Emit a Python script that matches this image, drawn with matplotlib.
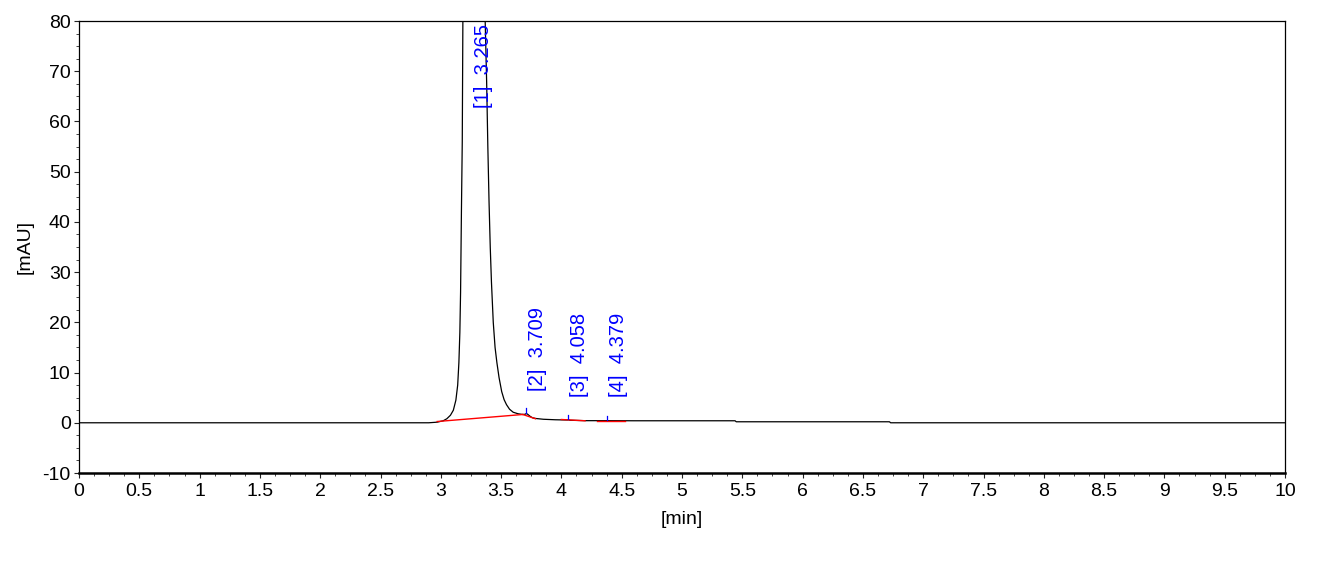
import matplotlib
matplotlib.use("Agg")
import matplotlib.pyplot as plt
from matplotlib.ticker import MultipleLocator

plt.rcParams['font.family'] = ['Liberation Sans', 'DejaVu Sans']
plt.rcParams['axes.unicode_minus'] = False

# chromatogram trace (time [min], signal [mAU])
time_min = [0.0, 2.90, 2.97, 3.02, 3.05, 3.08, 3.104, 3.125, 3.14, 3.15, 3.158,
            3.164, 3.171, 3.178, 3.183, 3.20, 3.23, 3.265, 3.30, 3.33, 3.36,
            3.368, 3.38, 3.39, 3.40, 3.41, 3.42, 3.435, 3.45, 3.465, 3.483,
            3.505, 3.525, 3.545, 3.57, 3.60, 3.64, 3.68, 3.70, 3.709, 3.72,
            3.74, 3.76, 3.79, 3.85, 3.95, 4.05, 4.058, 4.07, 4.20, 4.379,
            4.60, 5.44, 5.45, 6.72, 6.73, 10.0]
signal_mau = [0.0, 0.0, 0.12, 0.4, 0.8, 1.5, 2.5, 4.5, 7.5, 12.0, 18.0,
              26.0, 42.0, 56.0, 80.0, 150.0, 260.0, 310.0, 240.0, 150.0, 95.0,
              80.0, 68.0, 55.0, 44.0, 35.0, 28.0, 20.0, 15.0, 12.0, 9.0,
              6.2, 4.6, 3.6, 2.7, 2.1, 1.8, 1.65, 1.7, 1.85, 1.7,
              1.3, 1.0, 0.85, 0.7, 0.6, 0.55, 0.6, 0.5, 0.42, 0.42,
              0.4, 0.4, 0.2, 0.2, 0.0, 0.0]

# peaks
peak_ids = [1, 2, 3, 4]
peak_rt = [3.265, 3.709, 4.058, 4.379]
peak_apex = [310.0, 1.85, 0.6, 0.42]
label_y = [62.6, 6.4, 5.2, 5.2]

# integration baselines (start t, start y, end t, end y)
base_t0 = [2.97, 3.68, 4.00, 4.295]
base_y0 = [0.25, 1.65, 0.65, 0.40]
base_t1 = [3.68, 3.785, 4.196, 4.527]
base_y1 = [1.65, 0.80, 0.40, 0.40]

W, H = 1336, 566
fig = plt.figure(figsize=(W / 100, H / 100), dpi=100)
ax = fig.add_axes([79 / W, 1 - 473 / H, (1285 - 79) / W, (473 - 21) / H])

ax.plot(time_min, signal_mau, color='black', lw=0.9, zorder=3)
for t0, y0, t1, y1 in zip(base_t0, base_y0, base_t1, base_y1):
    ax.plot([t0, t1], [y0, y1], color='#ff0000', lw=1.0, zorder=4)

for pid, rt, apex, ly in zip(peak_ids, peak_rt, peak_apex, label_y):
    ax.plot([rt, rt], [apex + 0.15, apex + 1.0], color='#0000ff', lw=0.9, zorder=5)
    ax.text(rt + 0.012, ly, f"[{pid}]  {rt:.3f}", rotation=90, ha='left', va='bottom',
            color='#0000ff', fontsize=14.5, clip_on=True, zorder=6)

ax.set_xlim(0, 10)
ax.set_ylim(-10, 80)
ax.xaxis.set_major_locator(MultipleLocator(0.5))
ax.xaxis.set_minor_locator(MultipleLocator(0.125))
ax.yaxis.set_major_locator(MultipleLocator(10))
ax.yaxis.set_minor_locator(MultipleLocator(2.5))

ax.set_xticks([i * 0.5 for i in range(21)])
ax.set_xticklabels([f"{i * 0.5:g}" for i in range(21)])

ax.tick_params(axis='both', which='major', direction='out', length=3.5, width=0.8,
               labelsize=14, pad=2.5, color='#222222')
ax.tick_params(axis='both', which='minor', direction='out', length=2, width=0.7,
               color='#444444')
ax.tick_params(axis='x', which='major', pad=4)

for s in ['top', 'right', 'left']:
    ax.spines[s].set_linewidth(0.9)
ax.spines['bottom'].set_linewidth(1.8)

fig.text(682 / W, 1 - 520 / H, "[min]", ha='center', va='center', fontsize=14)
fig.text(25 / W, 1 - 247 / H, "[mAU]", ha='center', va='center', rotation=90,
         fontsize=14)

fig.savefig("out.png", dpi=100)
